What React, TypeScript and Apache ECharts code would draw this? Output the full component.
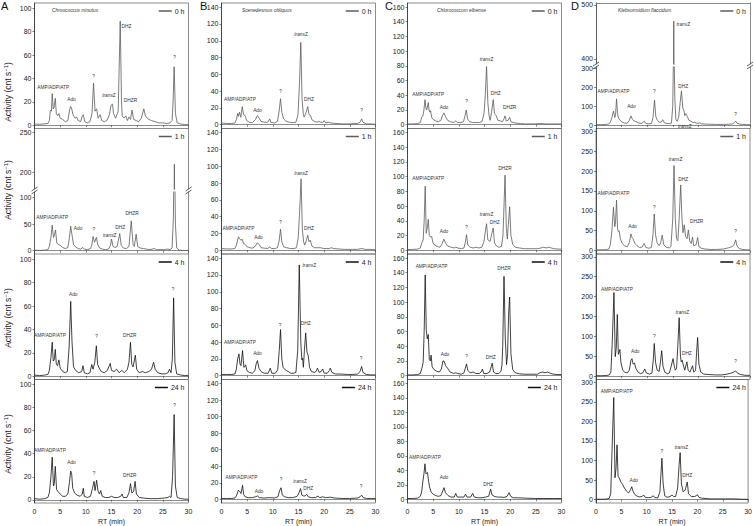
import React, { useEffect, useRef } from 'react';
import * as echarts from 'echarts';

type Pt = [number, number];
type Ann = [string, number, number];

// ---------- tick labels / categories ----------
const RT_TICKS = [0, 5, 10, 15, 20, 25, 30];
const TIMES = ['0 h', '1 h', '4 h', '24 h'];
const SPECIES = ['Chroococcus minutus', 'Scenedesmus obliquus', 'Chlorococcum elbense', 'Klebsormidium flaccidum'];
const PANEL_LETTERS = ['A', 'B', 'C', 'D'];
const Y_TICKS_A = [0, 20, 40, 60, 80, 100];
const Y_TICKS_A_LOW = [0, 50, 100];
const Y_TICKS_A_HIGH = [200, 250];
const Y_TICKS_B = [0, 20, 40, 60, 80, 100, 120, 140];
const Y_TICKS_C = [0, 20, 40, 60, 80, 100, 120, 140, 160];
const Y_TICKS_D = [0, 50, 100, 150, 200, 250, 300];
const Y_TICKS_D_LOW = [0, 100, 200, 300];
const Y_TICKS_D_HIGH = [400, 500];

// ---------- traces: [RT (min), activity (cnt/s)] ----------
const A_0H: Pt[] = [[0,1],[1,0.8],[2,1.2],[2.6,1.5],[2.9,4],[3.1,13],[3.3,12],[3.45,27],[3.65,14],[3.8,15],[4.05,23],[4.25,10],[4.5,8],[4.75,10],[5.0,6],[5.5,5],[6.0,3],[6.5,4],[6.8,12],[7.0,16],[7.2,15],[7.5,9],[7.9,6],[8.2,7],[8.5,4],[9.0,3],[9.3,8],[9.5,9],[9.8,3],[10.3,2],[10.8,3],[11.2,10],[11.5,36],[11.8,12],[12.1,14],[12.4,6],[12.8,9],[13.1,4],[13.6,3],[14.1,4],[14.6,9],[14.9,17],[15.2,18],[15.4,10],[15.8,6],[16.3,12],[16.7,89],[16.95,20],[17.1,8],[17.4,6],[17.8,8],[18.1,4],[18.4,7],[18.7,5],[19.0,13],[19.3,5],[19.8,4],[20.3,3],[20.8,6],[21.3,14],[21.6,8],[22.2,5],[22.8,4],[23.5,3],[24.2,2],[25,2],[25.8,1.5],[26.4,2],[26.8,4],[27.0,20],[27.2,50],[27.45,10],[27.8,2],[28.5,1],[29.3,0.5],[30,0.8]];
const A_1H: Pt[] = [[0,1],[1,0.5],[2,1],[2.6,2],[2.9,8],[3.2,25],[3.45,48],[3.7,25],[3.9,30],[4.1,39],[4.35,14],[4.6,12],[5,10],[5.5,6],[6,4],[6.5,6],[6.8,25],[7.05,46],[7.3,30],[7.6,12],[8,7],[8.5,4],[9,3],[9.4,6],[9.7,3],[10.3,2],[10.9,4],[11.2,12],[11.4,27],[11.7,16],[12.05,25],[12.3,12],[12.7,5],[13.2,3],[13.8,2],[14.4,3],[14.8,10],[15.0,22],[15.3,8],[15.7,6],[16.1,8],[16.6,32],[16.9,10],[17.3,5],[17.9,4],[18.4,8],[18.85,56],[19.2,12],[19.45,8],[19.8,31],[20.1,8],[20.6,5],[21.2,4],[21.8,3],[22.5,2],[23.3,4],[23.8,2],[24.5,2],[25.3,2],[25.9,3],[26.4,2],[26.8,5],[27.05,60],[27.25,210],[27.45,50],[27.7,5],[28.2,1],[29,0.5],[30,0.5]];
const A_4H: Pt[] = [[0,1],[1,0.5],[2,1],[2.6,1.5],[2.9,5],[3.2,16],[3.45,29],[3.65,13],[3.85,14],[4.05,23],[4.25,10],[4.5,9],[4.75,14],[5.0,7],[5.5,4],[6,3],[6.4,4],[6.75,25],[7.05,64],[7.3,30],[7.6,8],[8,5],[8.6,3],[9.2,4],[9.45,9],[9.7,3],[10.3,2],[10.8,3],[11.15,10],[11.4,6],[11.75,12],[12.05,26],[12.3,10],[12.6,7],[13,4],[13.6,3],[14.2,5],[14.75,11],[15.0,5],[15.5,4],[16,6],[16.5,3],[17,5],[17.5,3],[18.1,6],[18.4,12],[18.7,29],[18.95,10],[19.2,8],[19.65,18],[19.9,6],[20.4,3],[21,4],[21.6,3],[22.3,4],[22.8,6],[23.2,12],[23.5,6],[24,3],[24.8,2],[25.5,2],[26,3],[26.3,6],[26.6,3],[26.85,15],[27.1,67],[27.35,12],[27.7,2],[28.5,1],[29.3,0.5],[30,0.8]];
const A_24H: Pt[] = [[0,1],[1,0.5],[2,1],[2.6,2],[2.9,6],[3.2,20],[3.45,37],[3.7,12],[3.85,14],[4.05,29],[4.3,9],[4.6,7],[5.0,5],[5.5,3],[6,3],[6.5,5],[6.8,15],[7.05,25],[7.25,22],[7.45,10],[7.8,6],[8.3,4],[8.9,3],[9.3,5],[9.5,10],[9.7,3],[10.3,2],[10.9,3],[11.3,10],[11.6,16],[11.8,8],[12.1,17],[12.35,8],[12.65,5],[12.9,8],[13.2,3],[13.8,2],[14.5,2],[15,3],[15.5,2],[16.2,2],[16.8,3],[17.05,5],[17.3,2],[18,2],[18.4,6],[18.7,14],[18.95,6],[19.3,7],[19.6,16],[19.85,5],[20.4,2],[21.2,1.5],[22.5,1],[24,1],[25.3,1.5],[26,2],[26.3,3],[26.6,2],[26.9,20],[27.2,74],[27.45,12],[27.8,2],[28.5,1],[29.3,0.5],[30,0.5]];

const B_0H: Pt[] = [[0,2],[1,1.5],[2,1.5],[2.6,2],[2.9,6],[3.15,13.5],[3.3,10],[3.5,15],[3.75,9],[4.05,21.5],[4.3,12],[4.6,11],[4.9,5],[5.4,3],[6,2.5],[6.6,6],[7.0,11],[7.3,8],[7.7,4],[8.3,3],[9,3],[9.4,7],[9.6,3],[10.3,2],[10.9,4],[11.2,15],[11.5,31],[11.75,15],[12.1,7],[12.6,4],[13.2,3],[13.9,2.5],[14.5,3],[14.9,12],[15.2,50],[15.45,98],[15.7,30],[15.95,12],[16.1,9],[16.5,15],[16.8,21.5],[17.05,12],[17.35,11],[17.6,6],[18.1,4],[18.6,3],[18.9,4],[19.3,3],[19.8,3],[20.0,5],[20.3,2],[20.8,3],[21.4,2],[22.3,1.5],[23.5,1],[25,1],[26.5,1.5],[27.0,3],[27.3,7],[27.55,3],[28.2,1],[29,1],[30,0.5]];
const B_1H: Pt[] = [[0,2],[1,1.5],[2,1.5],[2.6,2],[2.9,6],[3.3,16],[3.5,14],[3.75,12],[4.05,13],[4.3,8],[4.6,7],[5,4],[5.5,3],[6.1,2.5],[6.6,5],[7.0,9],[7.3,7],[7.7,3],[8.3,2.5],[9,2],[9.4,4],[9.7,2],[10.4,2],[10.9,3],[11.2,10],[11.5,25],[11.75,10],[12.1,4],[12.7,3],[13.4,2],[14.1,2],[14.6,3],[14.95,15],[15.25,50],[15.5,85],[15.75,25],[16.0,10],[16.2,6],[16.55,12],[16.8,18],[17.05,10],[17.3,12],[17.6,5],[18.1,3],[18.7,3],[19.3,3],[19.9,2],[20.5,2],[21.0,2],[21.4,3],[21.8,2],[22.8,1.5],[24,1],[25.5,1],[26.5,1],[27.3,2],[28,1],[29,1],[30,0.5]];
const B_4H: Pt[] = [[0,1.5],[1,1.5],[2,1.5],[2.6,2],[2.9,8],[3.15,20],[3.4,26],[3.6,14],[3.8,12],[4.1,30],[4.35,10],[4.55,11],[4.7,13],[4.95,6],[5.4,4],[6,3],[6.5,6],[6.75,14],[7.0,18],[7.3,9],[7.7,5],[8.3,3],[9.1,3],[9.5,9],[9.8,3],[10.5,3],[10.95,7],[11.25,30],[11.5,55],[11.75,20],[12.0,10],[12.4,7],[12.7,6],[13.0,5],[13.5,3],[14.1,3],[14.5,4],[14.85,30],[15.15,132],[15.45,40],[15.65,19],[15.8,21],[15.95,10],[16.15,30],[16.4,51],[16.65,28],[16.9,24],[17.15,10],[17.5,5],[18.1,4],[18.4,5],[18.7,9],[19.0,4],[19.4,5],[19.7,8],[20.0,3],[20.6,3],[21.0,6],[21.2,9],[21.5,4],[22.2,2],[23.3,2],[24.5,1.5],[25.6,1.5],[26.5,2],[27.0,5],[27.3,11],[27.55,4],[28.2,1.5],[29,1],[30,1]];
const B_24H: Pt[] = [[0,1],[1,1],[2,1],[2.6,1.5],[2.9,4],[3.3,11],[3.6,9],[3.8,7],[4.1,17],[4.3,6],[4.6,3],[5.2,2],[6,2],[6.6,3],[7.0,4],[7.4,2],[8.3,1.5],[9.4,2],[10.3,1.5],[11.0,3],[11.3,10],[11.6,14],[11.85,5],[12.3,3],[13,2],[13.8,2],[14.5,3],[14.8,4],[15.1,8],[15.4,13],[15.65,5],[16.0,4],[16.3,4],[16.6,6],[16.9,3],[17.5,2],[18.3,2],[18.8,4],[19.1,2],[19.7,3],[20.3,2],[21.2,2.5],[22,1.5],[23.5,1],[25,1],[26.5,1.5],[27.0,3],[27.3,5],[27.6,2],[28.3,1],[29.2,1],[30,1]];

const C_0H: Pt[] = [[0,1],[1,1],[2,1.5],[2.5,3],[2.75,10],[3.0,12],[3.2,20],[3.4,34],[3.6,22],[3.75,20],[4.05,30],[4.2,20],[4.35,17],[4.5,19],[4.7,10],[5.0,7],[5.5,5],[6.0,4],[6.5,6],[6.8,12],[7.1,16],[7.4,11],[7.8,6],[8.4,4],[9.0,3],[9.4,5],[9.7,3],[10.4,3],[10.9,4],[11.2,12],[11.45,20],[11.7,8],[12.1,4],[12.7,3],[13.4,3],[14.0,3],[14.5,4],[14.9,15],[15.15,40],[15.4,79],[15.65,30],[15.9,12],[16.1,6],[16.4,18],[16.7,34],[16.95,15],[17.3,12],[17.6,6],[18.1,5],[18.5,4],[18.8,8],[19.0,12],[19.25,5],[19.6,6],[19.9,10],[20.15,4],[20.6,3],[21.2,2],[22,1.5],[23,1],[24.5,1],[26,1.5],[27,1],[28,1],[29,1],[30,1]];
const C_1H: Pt[] = [[0,1],[1,1],[2,1.5],[2.5,3],[2.8,10],[3.05,14],[3.25,40],[3.45,87],[3.65,23],[3.85,30],[4.05,42],[4.25,20],[4.45,18],[4.7,19],[4.95,10],[5.3,7],[5.8,5],[6.3,4],[6.7,8],[7.1,15],[7.4,10],[7.8,6],[8.5,4],[9.1,3],[9.4,4],[9.8,3],[10.5,2],[11.0,3],[11.25,10],[11.5,21],[11.75,7],[12.2,4],[12.8,3],[13.3,4],[13.9,3],[14.5,4],[14.9,12],[15.15,25],[15.4,36],[15.65,14],[15.9,13],[16.1,12],[16.4,22],[16.7,30],[16.95,10],[17.3,6],[17.8,4],[18.3,5],[18.6,20],[18.8,60],[19.0,102],[19.25,30],[19.45,15],[19.65,35],[19.9,59],[20.15,20],[20.5,8],[21.0,4],[21.8,3],[22.8,2],[24,2],[25.3,2],[26,3],[26.5,4],[27.0,3],[27.5,4],[28,3],[28.5,2],[29.3,1.5],[30,1.5]];
const C_4H: Pt[] = [[0,1],[1,1],[2,1.5],[2.5,3],[2.8,10],[3.05,18],[3.25,60],[3.45,137],[3.65,63],[3.85,50],[4.05,56],[4.25,22],[4.45,20],[4.6,28],[4.8,12],[5.2,8],[5.7,6],[6.2,5],[6.6,9],[6.9,20],[7.1,20],[7.4,14],[7.8,10],[8.3,5],[9.0,3],[9.4,4],[9.8,3],[10.5,2],[11.0,4],[11.25,10],[11.5,16],[11.75,7],[12.2,4],[12.8,5],[13.3,3],[14.0,3],[14.35,5],[14.6,9],[14.85,3],[15.5,3],[16.0,5],[16.3,12],[16.5,17],[16.75,5],[17.2,3],[17.8,3],[18.2,6],[18.4,14],[18.55,40],[18.8,135],[19.05,50],[19.3,15],[19.5,30],[19.7,85],[19.9,107],[20.15,30],[20.5,8],[21.0,4],[21.8,2.5],[22.8,2],[24,2],[25.3,2],[25.8,4],[26.3,5],[26.8,4],[27.3,5],[27.9,3],[28.5,2],[29.3,1.5],[30,1.5]];
const C_24H: Pt[] = [[0,1],[1,1],[2,1.5],[2.5,4],[2.75,10],[3.0,25],[3.2,35],[3.4,49],[3.6,35],[3.75,36],[3.9,37],[4.1,25],[4.3,17],[4.6,10],[5.0,7],[5.5,5],[6.0,4],[6.5,5],[6.8,10],[7.1,16],[7.4,9],[7.9,5],[8.5,3],[9.1,3],[9.4,8],[9.7,3],[10.4,3],[11.0,3],[11.3,7],[11.6,3],[12.3,3],[12.7,8],[13.0,3],[13.8,2],[14.5,2],[15.2,3],[15.8,4],[16.2,14],[16.45,6],[16.9,4],[17.5,3],[18.2,3],[18.8,2.5],[19.4,4],[19.8,9],[20.1,4],[20.6,2],[21.5,2],[23,1.5],[25,1],[27,1],[28.5,1],[30,1]];

const D_0H: Pt[] = [[0,2],[1,2],[2,3],[2.5,5],[2.8,15],[3.1,40],[3.4,74],[3.65,40],[3.8,50],[4.0,138],[4.2,60],[4.4,35],[4.7,25],[5.1,15],[5.6,10],[6.1,10],[6.5,25],[6.8,48],[7.1,30],[7.4,22],[7.8,18],[8.3,10],[8.9,8],[9.2,15],[9.4,20],[9.7,8],[10.3,6],[10.8,8],[11.1,40],[11.4,132],[11.65,45],[11.95,25],[12.3,15],[12.7,15],[13.0,28],[13.3,12],[13.8,8],[14.3,7],[14.7,10],[14.95,100],[15.15,470],[15.35,150],[15.55,30],[15.8,20],[16.1,40],[16.4,120],[16.65,180],[16.9,90],[17.1,80],[17.3,50],[17.5,60],[17.8,45],[18.1,25],[18.5,20],[18.9,12],[19.2,15],[19.5,10],[19.9,8],[20.2,12],[20.6,6],[21.3,5],[22.3,4],[23.5,3],[24.8,3],[25.8,4],[26.6,6],[27.0,14],[27.2,21],[27.45,10],[27.9,5],[28.6,3],[29.3,2],[30,2]];
const D_1H: Pt[] = [[0,2],[1,2],[2,2.5],[2.5,4],[2.8,15],[3.1,50],[3.4,109],[3.65,60],[3.8,70],[4.0,127],[4.2,55],[4.35,48],[4.5,50],[4.75,30],[5.1,18],[5.6,12],[6.1,10],[6.5,20],[6.8,42],[7.05,32],[7.2,30],[7.6,18],[8.0,12],[8.5,8],[9.0,9],[9.4,18],[9.7,8],[10.3,6],[10.8,8],[11.1,40],[11.35,92],[11.6,40],[11.9,20],[12.3,12],[12.6,20],[12.9,39],[13.2,15],[13.7,8],[14.3,7],[14.6,10],[14.95,80],[15.2,214],[15.45,80],[15.7,30],[15.95,25],[16.2,80],[16.5,165],[16.75,80],[16.95,45],[17.2,65],[17.45,35],[17.75,30],[18.0,52],[18.25,25],[18.55,18],[18.8,34],[19.05,12],[19.5,15],[19.8,33],[20.05,10],[20.5,6],[21.2,4],[22.2,3],[23.5,3],[24.8,4],[25.8,7],[26.5,10],[26.9,15],[27.2,27],[27.45,12],[27.9,5],[28.6,3],[29.3,2],[30,2]];
const D_4H: Pt[] = [[0,1],[1,1],[2,1.5],[2.6,3],[2.9,10],[3.15,80],[3.5,210],[3.75,49],[3.95,70],[4.15,155],[4.35,55],[4.5,60],[4.65,67],[4.85,35],[5.2,15],[5.6,10],[6.1,8],[6.5,15],[6.8,40],[7.0,44],[7.25,30],[7.5,33],[7.75,20],[8.2,10],[8.7,6],[9.1,8],[9.5,18],[9.8,8],[10.4,5],[10.9,8],[11.15,40],[11.35,82],[11.6,35],[11.9,15],[12.3,12],[12.55,35],[12.8,64],[13.05,25],[13.4,10],[13.9,6],[14.3,8],[14.65,25],[15.0,44],[15.25,25],[15.45,15],[15.7,20],[15.95,80],[16.2,147],[16.45,50],[16.6,36],[16.8,40],[17.05,25],[17.3,15],[17.7,36],[17.95,15],[18.3,10],[18.8,26],[19.05,10],[19.4,15],[19.6,60],[19.8,97],[20.05,30],[20.4,10],[21,5],[22,4],[23.3,3],[24.5,3],[25.5,5],[26.2,7],[26.8,10],[27.2,13],[27.6,7],[28.2,4],[29,2],[30,2]];
const D_24H: Pt[] = [[0,1],[1,1],[2,1.5],[2.6,3],[2.9,15],[3.15,120],[3.5,261],[3.75,56],[3.95,80],[4.15,140],[4.35,60],[4.6,55],[4.9,45],[5.2,40],[5.6,30],[6.0,22],[6.4,17],[6.8,25],[7.05,33],[7.3,22],[7.6,14],[8.1,9],[8.6,7],[9.1,8],[9.4,12],[9.7,6],[10.3,5],[10.9,6],[11.3,10],[11.6,5],[12.2,5],[12.6,20],[13.0,106],[13.25,40],[13.55,10],[14.0,6],[14.6,8],[15.0,12],[15.3,8],[15.7,8],[16.1,30],[16.4,90],[16.6,120],[16.85,40],[17.2,20],[17.6,25],[18.0,45],[18.25,15],[18.8,8],[19.4,8],[19.8,10],[20.0,13],[20.3,6],[20.8,4],[21.5,3],[22.5,2],[24,2],[25.5,2],[27,2],[28,1.5],[29,1],[30,1]];

// ---------- peak annotations: [text, RT, activity] ----------
const A_0H_LABELS: Ann[] = [['AMP/ADP/ATP',3.66,32],['Ado',7.2,22],['?',11.5,42],['transZ',14.5,25],['DHZ',17.9,84],['DHZR',18.7,21],['?',27.3,57.5]];
const A_1H_LABELS: Ann[] = [['AMP/ADP/ATP',3.46,62.5],['Ado',8.5,41],['?',11.55,40],['transZ',14.65,29],['DHZ',16.7,43],['DHZR',19.0,69]];
const A_4H_LABELS: Ann[] = [['AMP/ADP/ATP',3.0,35],['Ado',7.55,70],['?',12.1,34],['DHZR',18.55,35],['?',27.0,74]];
const A_24H_LABELS: Ann[] = [['AMP/ADP/ATP',3.0,43],['Ado',7.2,32],['?',11.6,23],['DHZR',18.55,21],['?',27.3,82]];
const B_0H_LABELS: Ann[] = [['AMP/ADP/ATP',3.6,30],['Ado',7.0,17.5],['?',11.5,40],['transZ',15.5,108],['DHZ',17.05,29.5],['?',27.3,17.5]];
const B_1H_LABELS: Ann[] = [['AMP/ADP/ATP',3.3,25.4],['Ado',7.2,15.6],['?',11.5,33],['transZ',15.5,91],['DHZ',17.05,26]];
const B_4H_LABELS: Ann[] = [['AMP/ADP/ATP',3.6,39],['Ado',7.0,26],['?',11.4,60],['transZ',17.1,131],['DHZ',16.4,62],['?',27.2,20]];
const B_24H_LABELS: Ann[] = [['AMP/ADP/ATP',3.9,26],['Ado',7.3,10],['?',11.6,24],['transZ',15.3,22],['DHZ',16.9,13],['?',27.2,15]];
const C_0H_LABELS: Ann[] = [['AMP/ADP/ATP',4.05,41],['Ado',7.1,23],['?',11.5,31],['transZ',15.4,89],['DHZ',17.2,42],['DHZR',19.9,23]];
const C_1H_LABELS: Ann[] = [['AMP/ADP/ATP',4.05,97],['Ado',7.1,25],['?',11.5,31],['transZ',15.4,49],['DHZ',17.0,38],['DHZR',19.0,111]];
const C_4H_LABELS: Ann[] = [['AMP/ADP/ATP',4.7,148],['Ado',7.3,29],['?',11.5,26],['DHZ',16.2,25],['DHZR',18.8,146]];
const C_24H_LABELS: Ann[] = [['AMP/ADP/ATP',3.4,58],['Ado',7.1,30],['DHZ',15.7,21]];
const D_0H_LABELS: Ann[] = [['AMP/ADP/ATP',3.4,176],['Ado',6.9,97],['?',11.35,176],['transZ',17.0,463],['DHZ',17.0,206],['transZ',17.3,-6],['?',27.2,58]];
const D_1H_LABELS: Ann[] = [['AMP/ADP/ATP',3.4,144],['Ado',7.1,60],['?',11.35,109],['transZ',15.5,228],['DHZ',17.0,180],['DHZR',19.6,74],['?',27.2,48]];
const D_4H_LABELS: Ann[] = [['AMP/ADP/ATP',4.1,219],['Ado',7.65,63],['?',11.35,100],['transZ',16.85,160],['DHZ',17.7,57],['?',27.2,36]];
const D_24H_LABELS: Ann[] = [['AMP/ADP/ATP',4.1,277],['Ado',7.45,50],['?',13.0,123],['transZ',16.85,133],['DHZ',18.0,62]];

// ---------- layout / style ----------
const W = 755;
const H = 526;
const FONT = '"Liberation Sans", Arial, Helvetica, sans-serif';
const COL_LEFT = [34.5, 221.5, 407.5, 596];
const COL_W = 154;
const ROW_TOP = [3, 128.5, 254, 379.5];
const ROW_H = 125.5;
const GREY = '#5c5c5c';
const BLACK = '#111111';
const FRAME = '#6e6e6e';
const AXIS = '#333333';
const Y_TITLE_CENTER = [92, 190, 318, 444];

type Seg = { top: number; bottom: number; range: [number, number]; ticks: number[] };
type Panel = { col: number; row: number; data: Pt[]; ann: Ann[]; segs: Seg[] };

const full = (range: [number, number], ticks: number[]): Seg[] => [{ top: 0, bottom: ROW_H, range, ticks }];
const RA: [number, number] = [-2.8, 104.5];
const RB: [number, number] = [-4.5, 145];
const RC: [number, number] = [-5.2, 165.5];
const RD: [number, number] = [-8.5, 307];

const PANELS: Panel[] = [
  { col: 0, row: 0, data: A_0H, ann: A_0H_LABELS, segs: full(RA, Y_TICKS_A) },
  { col: 0, row: 1, data: A_1H, ann: A_1H_LABELS, segs: [
    { top: 0, bottom: 60.5, range: [179, 254.75], ticks: Y_TICKS_A_HIGH },
    { top: 63.5, bottom: ROW_H, range: [-6.2, 110.3], ticks: Y_TICKS_A_LOW },
  ] },
  { col: 0, row: 2, data: A_4H, ann: A_4H_LABELS, segs: full(RA, Y_TICKS_A) },
  { col: 0, row: 3, data: A_24H, ann: A_24H_LABELS, segs: full(RA, Y_TICKS_A) },
  { col: 1, row: 0, data: B_0H, ann: B_0H_LABELS, segs: full(RB, Y_TICKS_B) },
  { col: 1, row: 1, data: B_1H, ann: B_1H_LABELS, segs: full(RB, Y_TICKS_B) },
  { col: 1, row: 2, data: B_4H, ann: B_4H_LABELS, segs: full(RB, Y_TICKS_B) },
  { col: 1, row: 3, data: B_24H, ann: B_24H_LABELS, segs: full(RB, Y_TICKS_B) },
  { col: 2, row: 0, data: C_0H, ann: C_0H_LABELS, segs: full(RC, Y_TICKS_C) },
  { col: 2, row: 1, data: C_1H, ann: C_1H_LABELS, segs: full(RC, Y_TICKS_C) },
  { col: 2, row: 2, data: C_4H, ann: C_4H_LABELS, segs: full(RC, Y_TICKS_C) },
  { col: 2, row: 3, data: C_24H, ann: C_24H_LABELS, segs: full(RC, Y_TICKS_C) },
  { col: 3, row: 0, data: D_0H, ann: D_0H_LABELS, segs: [
    { top: 0, bottom: 61, range: [390.7, 503.7], ticks: Y_TICKS_D_HIGH },
    { top: 64, bottom: ROW_H, range: [-18.5, 306.9], ticks: Y_TICKS_D_LOW },
  ] },
  { col: 3, row: 1, data: D_1H, ann: D_1H_LABELS, segs: full(RD, Y_TICKS_D) },
  { col: 3, row: 2, data: D_4H, ann: D_4H_LABELS, segs: full(RD, Y_TICKS_D) },
  { col: 3, row: 3, data: D_24H, ann: D_24H_LABELS, segs: full(RD, Y_TICKS_D) },
];

function buildOption() {
  const grid: any[] = [];
  const xAxis: any[] = [];
  const yAxis: any[] = [];
  const series: any[] = [];
  const legend: any[] = [];
  const title: any[] = [];
  const graphic: any[] = [];
  const frameLine = { color: FRAME, width: 0.8 };
  const axisLine = { color: AXIS, width: 0.8 };

  PANELS.forEach((p) => {
    const left = COL_LEFT[p.col];
    const rowTop = ROW_TOP[p.row];
    const color = p.row < 2 ? GREY : BLACK;
    const name = TIMES[p.row];
    const broken = p.segs.length > 1;
    const isBottomRow = p.row === 3;

    p.segs.forEach((s, si) => {
      const gi = grid.length;
      const isLowest = si === p.segs.length - 1;
      const isTopSegOfFirstRow = broken && si === 0 && p.row === 0;
      grid.push({
        left, top: rowTop + s.top, width: COL_W, height: s.bottom - s.top,
        show: !broken, borderColor: FRAME, borderWidth: 0.8, backgroundColor: 'transparent',
      });
      xAxis.push({
        gridIndex: gi, type: 'value', min: 0, max: 30, interval: 5,
        position: isTopSegOfFirstRow ? 'top' : 'bottom',
        axisLine: { show: !broken || isLowest || isTopSegOfFirstRow, lineStyle: frameLine },
        axisTick: { show: isLowest, length: 2, lineStyle: { color: AXIS, width: 0.6 }, customValues: RT_TICKS },
        axisLabel: { show: isBottomRow, fontSize: 7, color: '#222', margin: 5, fontFamily: FONT, customValues: RT_TICKS },
        splitLine: { show: false },
        name: isBottomRow ? 'RT (min)' : '',
        nameLocation: 'middle', nameGap: 15,
        nameTextStyle: { fontSize: 7, color: '#222', fontFamily: FONT },
      });
      const yi = yAxis.length;
      yAxis.push({
        gridIndex: gi, type: 'value', min: s.range[0], max: s.range[1], position: 'left',
        axisLine: { show: true, lineStyle: axisLine },
        axisTick: { show: true, length: 2, lineStyle: { color: AXIS, width: 0.6 }, customValues: s.ticks },
        axisLabel: { show: true, fontSize: 7, color: '#222', margin: 3, fontFamily: FONT, customValues: s.ticks },
        splitLine: { show: false },
      });
      if (broken) {
        yAxis.push({
          gridIndex: gi, type: 'value', min: s.range[0], max: s.range[1], position: 'right',
          axisLine: { show: true, lineStyle: frameLine },
          axisTick: { show: false }, axisLabel: { show: false }, splitLine: { show: false },
        });
      }
      const anns = p.ann.filter(([, , v]) => v >= s.range[0] && v <= s.range[1]);
      series.push({
        type: 'line', name, xAxisIndex: gi, yAxisIndex: yi, data: p.data,
        showSymbol: false, symbol: 'none', clip: true, color,
        lineStyle: { width: 0.8, color }, z: 3,
        markPoint: {
          symbol: 'rect', symbolSize: 1, silent: true,
          itemStyle: { color: 'rgba(0,0,0,0)' },
          label: {
            show: true, position: 'inside', fontSize: 4.8, color: '#333', fontFamily: FONT,
            formatter: (pp: any) => (pp.name === 'transZ' ? '{i|trans}Z' : pp.name),
            rich: { i: { fontStyle: 'italic', fontSize: 4.8, color: '#333', fontFamily: FONT } },
          },
          data: anns.map(([t, x, y]) => ({ name: t, coord: [x, y] })),
        },
      });
    });

    legend.push({
      data: [name], selectedMode: false, icon: 'rect', itemWidth: 13, itemHeight: 1.5, itemGap: 4,
      right: W - (left + COL_W) + 4, top: rowTop + 4.5, padding: 0,
      textStyle: { fontSize: 7, color: '#222', fontFamily: FONT, padding: [0, 0, 0, -2] },
    });

    if (broken) {
      const yb1 = rowTop + p.segs[0].bottom;
      const yb2 = rowTop + p.segs[1].top;
      [left, left + COL_W].forEach((x) => {
        [yb1, yb2].forEach((yb) => {
          graphic.push({
            type: 'line', silent: true, z: 10,
            shape: { x1: x - 3, y1: yb + 2, x2: x + 3, y2: yb - 2 },
            style: { stroke: AXIS, lineWidth: 0.8 },
          });
        });
      });
    }
  });

  // panel letters and species names
  const LETTER_X = [1, 200, 385, 571];
  const SPECIES_X = [52, 242, 437, 618];
  PANEL_LETTERS.forEach((l, i) => {
    title.push({ text: l, left: LETTER_X[i], top: 0, padding: 0,
      textStyle: { fontSize: 11, fontWeight: 'normal', color: '#111', fontFamily: FONT } });
    title.push({ text: SPECIES[i], left: SPECIES_X[i], top: 7.5, padding: 0,
      textStyle: { fontSize: 4.8, fontWeight: 'normal', fontStyle: 'italic', color: '#333', fontFamily: FONT } });
  });

  // y-axis titles for column A
  Y_TITLE_CENTER.forEach((cy) => {
    graphic.push({
      type: 'text', x: 8, y: cy, rotation: Math.PI / 2, silent: true,
      style: {
        text: 'Activity (cnt s{sup|−1})',
        fontSize: 8.5, fontFamily: FONT, fill: '#222',
        align: 'center', verticalAlign: 'middle',
        textAlign: 'center', textVerticalAlign: 'middle',
        rich: { sup: { fontSize: 6, fontFamily: FONT, fill: '#222', padding: [0, 0, 5, 0] } },
      },
    });
  });

  return {
    animation: false,
    backgroundColor: '#fff',
    textStyle: { fontFamily: FONT },
    title, grid, xAxis, yAxis, series, legend, graphic,
  };
}

export default function App() {
  const ref = useRef<HTMLDivElement>(null);
  useEffect(() => {
    if (!ref.current) return;
    const chart = echarts.init(ref.current, null, { renderer: 'svg' });
    chart.setOption(buildOption() as any);
    return () => chart.dispose();
  }, []);
  return (
    <div
      ref={ref}
      style={{ position: 'fixed', left: 0, top: 0, width: W, height: H, background: '#fff' }}
    />
  );
}
